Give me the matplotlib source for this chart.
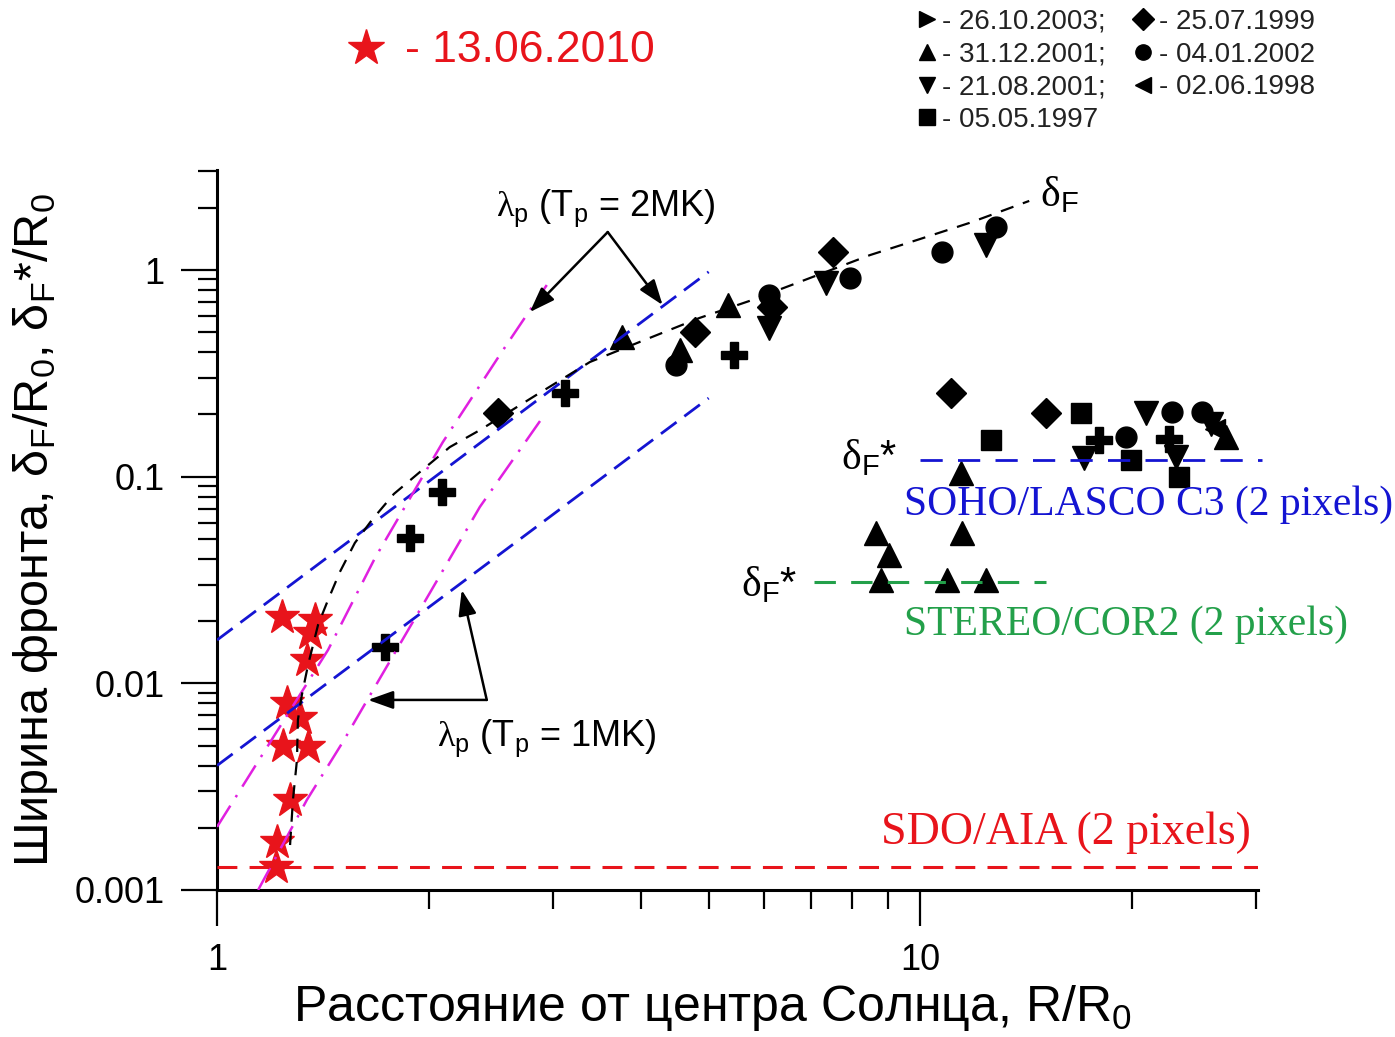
import numpy as np
import matplotlib.pyplot as plt
from matplotlib.lines import Line2D
from matplotlib.ticker import LogLocator, FuncFormatter, NullFormatter

plt.rcParams['font.family'] = ['Liberation Sans', 'DejaVu Sans']
plt.rcParams['mathtext.fontset'] = 'custom'
plt.rcParams['mathtext.rm'] = 'Liberation Sans'
plt.rcParams['mathtext.it'] = 'Liberation Sans:italic'
plt.rcParams['mathtext.sf'] = 'Liberation Serif'

RED = '#e8141b'
BLUE = '#1414d2'
MAGENTA = '#e020e0'
GREEN = '#23a04a'

# 13.06.2010, SDO/AIA
stars_r = [1.237, 1.378, 1.356, 1.342, 1.257, 1.312, 1.241, 1.347, 1.270, 1.217, 1.213]
stars_w = [0.0210, 0.0203, 0.0175, 0.0130, 0.0080, 0.0068, 0.0050, 0.0049, 0.00273, 0.00171, 0.00129]

# older events, LASCO / COR2
plus_r = [1.732, 1.880, 2.087, 3.122, 5.44, 17.96, 22.58]
plus_w = [0.0150, 0.0505, 0.0843, 0.254, 0.388, 0.151, 0.152]

diam_r = [2.506, 4.78, 6.16, 7.50, 11.07, 15.1]
diam_w = [0.203, 0.501, 0.662, 1.22, 0.254, 0.203]

circ_r = [4.50, 6.10, 7.93, 10.74, 12.82, 19.62, 22.79, 25.16]
circ_w = [0.347, 0.757, 0.915, 1.22, 1.61, 0.156, 0.206, 0.206]

tri_up_r = [3.76, 5.32, 4.55, 8.66, 9.03, 8.80, 10.92, 12.41, 11.47, 11.43, 27.2]
tri_up_w = [0.474, 0.677, 0.410, 0.0534, 0.0418, 0.0316, 0.0316, 0.0316, 0.0534, 0.104, 0.156]

tri_dn_r = [6.10, 7.35, 12.41, 17.1, 20.94, 23.1, 25.9]
tri_dn_w = [0.524, 0.865, 1.32, 0.123, 0.203, 0.1245, 0.180]

tri_lf_r = [26.2]
tri_lf_w = [0.170]

sq_r = [12.61, 16.93, 19.94, 23.3]
sq_w = [0.151, 0.203, 0.1205, 0.0997]

# front width curve delta_F
df_r = [1.270, 1.282, 1.299, 1.303, 1.320, 1.347, 1.392, 1.438, 1.495, 1.570, 1.660,
        1.784, 1.943, 2.142, 2.364, 2.83, 3.39, 4.12, 4.85, 5.71, 6.73, 8.47, 9.97,
        11.74, 14.28]
df_w = [0.00165, 0.00273, 0.00426, 0.00665, 0.00879, 0.01227, 0.0192, 0.0253, 0.0346,
        0.0478, 0.0617, 0.0825, 0.1054, 0.139, 0.168, 0.246, 0.359, 0.469, 0.586, 0.708,
        0.875, 1.18, 1.41, 1.69, 2.16]

# proton mean free path, T = 2 MK and 1 MK
lam_blue_r = [1.0, 5.0]
lam_blue_2mk = [0.0162, 0.98]
lam_blue_1mk = [0.0040, 0.24]

lam_mag_2mk_r = [1.0, 1.438, 1.677, 2.094, 2.523, 2.943]
lam_mag_2mk_w = [0.00202, 0.0145, 0.0404, 0.147, 0.388, 0.846]
lam_mag_1mk_r = [1.144, 1.342, 1.51, 1.688, 2.007, 2.364, 2.904]
lam_mag_1mk_w = [0.001, 0.00273, 0.00521, 0.0100, 0.0274, 0.0714, 0.194]

# 2-pixel resolution limits
aia_lim = 0.00129
lasco_lim = 0.1205
cor2_lim = 0.031

legend_labels = ['- 26.10.2003;', '- 31.12.2001;', '- 21.08.2001;', '- 05.05.1997',
                 '- 25.07.1999', '- 04.01.2002', '- 02.06.1998']
legend_markers = ['>', '^', 'v', 's', 'D', 'o', '<']

fig = plt.figure(figsize=(13.95, 10.37), dpi=100)
ax = fig.add_axes([0.1556, 0.1418, 0.7462, 0.6943])
ax.set_xscale('log')
ax.set_yscale('log')
ax.set_xlim(1, 30.2)
ax.set_ylim(0.001, 3.05)

mk = dict(ls='none', color='k', zorder=2)
ax.plot(plus_r, plus_w, marker='P', ms=19, **mk)
ax.plot(diam_r, diam_w, marker='D', ms=15.5, **mk)
ax.plot(circ_r, circ_w, marker='o', ms=15, **mk)
ax.plot(tri_up_r, tri_up_w, marker='^', ms=17, **mk)
ax.plot(tri_dn_r, tri_dn_w, marker='v', ms=17, **mk)
ax.plot(tri_lf_r, tri_lf_w, marker='<', ms=15, **mk)
ax.plot(sq_r, sq_w, marker='s', ms=15, **mk)
ax.plot(stars_r, stars_w, ls='none', marker='*', ms=26, color=RED, zorder=2)

ax.plot(lam_blue_r, lam_blue_2mk, color=BLUE, lw=2, ls=(0, (7, 3.5)), zorder=3)
ax.plot(lam_blue_r, lam_blue_1mk, color=BLUE, lw=2, ls=(0, (7, 3.5)), zorder=3)
ax.plot(lam_mag_2mk_r, lam_mag_2mk_w, color=MAGENTA, lw=1.8, ls=(0, (10, 4, 1, 4)), zorder=3)
ax.plot(lam_mag_1mk_r, lam_mag_1mk_w, color=MAGENTA, lw=1.8, ls=(0, (10, 4, 1, 4)), zorder=3)
ax.plot(df_r, df_w, color='k', lw=1.6, ls=(0, (6, 4.5)), zorder=3)

ax.plot([1, 30.2], [aia_lim, aia_lim], color=RED, lw=2.2, ls=(0, (6.5, 4)), zorder=3)
ax.plot([10, 30.6], [lasco_lim, lasco_lim], color=BLUE, lw=2, ls=(0, (8, 5.5)), clip_on=False, zorder=3)
ax.plot([7.07, 15.1], [cor2_lim, cor2_lim], color=GREEN, lw=2.2, ls=(0, (7, 5)), zorder=3)

# labels on the plot
ax.text(15.76, 2.31, r'$\mathsf{\delta}_\mathregular{F}$', fontsize=30, ha='center', va='center')
ax.text(8.47, 0.123, r'$\mathsf{\delta}_\mathregular{F}$*', fontsize=30, ha='center', va='center')
ax.text(6.10, 0.0299, r'$\mathsf{\delta}_\mathregular{F}$*', fontsize=30, ha='center', va='center')
ax.text(9.49, 0.0730, 'SOHO/LASCO C3 (2 pixels)', fontsize=30, family='Liberation Serif',
        color=BLUE, va='center', ha='left', clip_on=False)
ax.text(9.49, 0.01917, 'STEREO/COR2 (2 pixels)', fontsize=30, family='Liberation Serif',
        color=GREEN, va='center', ha='left')
ax.text(29.5, 0.00189, 'SDO/AIA (2 pixels)', fontsize=33, family='Liberation Serif',
        color=RED, va='center', ha='right')

ax.text(3.57, 2.0, r'$\mathsf{\lambda}_\mathregular{p}$ (T$_\mathregular{p}$ = 2MK)',
        fontsize=26, ha='center', va='center')
ax.text(2.94, 0.00544, r'$\mathsf{\lambda}_\mathregular{p}$ (T$_\mathregular{p}$ = 1MK)',
        fontsize=26, ha='center', va='center')

arr = dict(arrowstyle='-|>,head_length=0.7,head_width=0.25', color='k', lw=1.8,
           mutation_scale=22, shrinkA=0, shrinkB=0)
ax.annotate('', xy=(2.784, 0.626), xytext=(3.593, 1.527), arrowprops=arr)
ax.annotate('', xy=(4.30, 0.677), xytext=(3.593, 1.527), arrowprops=arr)
ax.annotate('', xy=(1.639, 0.00831), xytext=(2.418, 0.00831), arrowprops=arr)
ax.annotate('', xy=(2.228, 0.0283), xytext=(2.418, 0.00831), arrowprops=arr)

# axes styling
for s in ('top', 'right'):
    ax.spines[s].set_visible(False)
for s in ('left', 'bottom'):
    ax.spines[s].set_linewidth(2.2)

fmt = FuncFormatter(lambda v, p: f'{v:g}')
for axis in (ax.xaxis, ax.yaxis):
    axis.set_major_locator(LogLocator(base=10, subs=(1.0,), numticks=10))
    axis.set_minor_locator(LogLocator(base=10, subs=np.arange(2, 10), numticks=20))
    axis.set_major_formatter(fmt)
    axis.set_minor_formatter(NullFormatter())
ax.tick_params(which='major', direction='out', length=26, width=1.6, labelsize=26, pad=12)
ax.tick_params(which='minor', direction='out', length=13.5, width=1.6)

fig.text(712 / 1395, 1 - 1008 / 1037, 'Расстояние от центра Солнца, R/R$_\\mathregular{0}$',
         fontsize=36, ha='center', va='center')
fig.text(36 / 1395, 1 - 530 / 1037,
         'Ширина фронта, δ$_\\mathregular{F}$/R$_\\mathregular{0}$, δ$_\\mathregular{F}$*/R$_\\mathregular{0}$',
         fontsize=35, ha='center', va='center', rotation=90)

# event legend
handles = [Line2D([], [], ls='none', marker=m, color='k', ms=11) for m in legend_markers]
fig.legend(handles, legend_labels, loc='upper left', bbox_to_anchor=(917 / 1395, 1 - 9 / 1037),
           ncol=2, frameon=False, fontsize=20, handlelength=0.7, handletextpad=0.2,
           columnspacing=1.0, labelspacing=0.24, borderpad=0, borderaxespad=0,
           labelcolor='#222222')

fig.add_artist(Line2D([366 / 1395], [1 - 48 / 1037], ls='none', marker='*', ms=27,
                      color=RED, transform=fig.transFigure))
fig.text(405 / 1395, 1 - 50 / 1037, '- 13.06.2010', fontsize=32, color=RED, va='center')

fig.savefig('out.png', dpi=100)
